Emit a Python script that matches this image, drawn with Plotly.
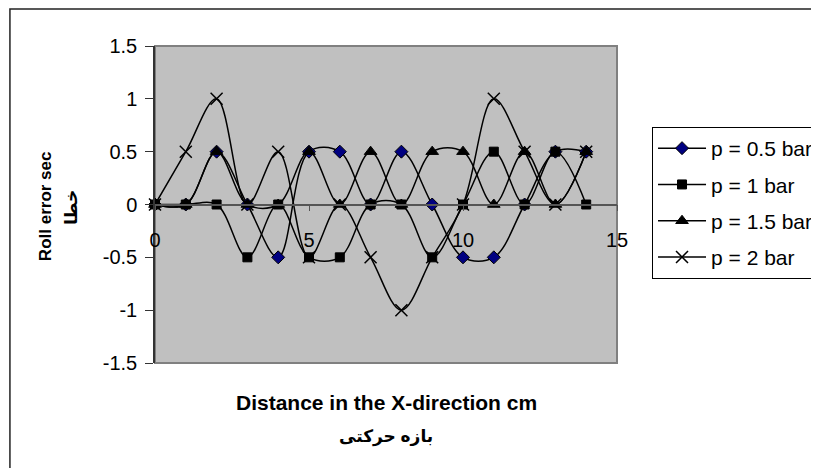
import plotly.graph_objects as go

# distance along X (cm) and roll error per pressure
distance = list(range(15))
p_05 = [0, 0, 0.5, 0, -0.5, 0.5, 0.5, 0, 0.5, 0, -0.5, -0.5, 0, 0.5, 0.5]
p_1 = [0, 0, 0, -0.5, 0, -0.5, -0.5, 0, 0, -0.5, 0, 0.5, 0, 0.5, 0]
p_15 = [0, 0, 0.5, 0, 0, 0.5, 0, 0.5, 0, 0.5, 0.5, 0, 0.5, 0, 0.5]
p_2 = [0, 0.5, 1, 0, 0.5, -0.5, 0, -0.5, -1, -0.5, 0, 1, 0.5, 0, 0.5]

series_names = ["p = 0.5 bar", "p = 1 bar", "p = 1.5 bar", "p = 2 bar"]
y_tickvals = [-1.5, -1, -0.5, 0, 0.5, 1, 1.5]
y_ticktext = ["-1.5", "-1", "-0.5", "0", "0.5", "1", "1.5"]
x_tickvals = [0, 5, 10, 15]
x_ticktext = ["0", "5", "10", "15"]

FONT = "Liberation Sans, Arial, DejaVu Sans, sans-serif"

markers = [
    dict(symbol="diamond", size=10, color="#000080", line=dict(color="black", width=1)),
    dict(symbol="square", size=9, color="black", line=dict(color="black", width=1)),
    dict(symbol="triangle-up", size=11, color="black", line=dict(color="black", width=1)),
    dict(symbol="x-thin-open", size=12, color="black", line=dict(color="black", width=1.5)),
]

fig = go.Figure()
for name, values, marker in zip(series_names, [p_05, p_1, p_15, p_2], markers):
    fig.add_trace(
        go.Scatter(
            x=distance,
            y=values,
            name=name,
            legendgroup=name,
            mode="lines+markers",
            line=dict(color="black", width=1.5, shape="spline", smoothing=1),
            marker=marker,
            cliponaxis=False,
        )
    )

# plot area border and outer chart frame
fig.add_shape(type="rect", xref="paper", yref="paper", x0=0, y0=0, x1=1, y1=1,
              line=dict(color="#808080", width=2), layer="below")
fig.add_shape(type="rect", xref="paper", yref="paper", x0=-0.314, y0=-1, x1=1.5, y1=1.117,
              line=dict(color="#222222", width=1.5), layer="below")

fig.add_annotation(text="Distance in the X-direction cm", x=0.5, y=-0.125, xref="paper", yref="paper",
                   showarrow=False, xanchor="center", yanchor="middle",
                   font=dict(size=21, family=FONT, color="black", weight="bold"))
fig.add_annotation(text="بازه حرکتی", x=0.5, y=-0.235, xref="paper", yref="paper",
                   showarrow=False, xanchor="center", yanchor="middle",
                   font=dict(size=17, family=FONT, color="black", weight="bold"))
fig.add_annotation(text="Roll error sec", x=-0.238, y=0.495, xref="paper", yref="paper", textangle=-90,
                   showarrow=False, xanchor="center", yanchor="middle",
                   font=dict(size=17, family=FONT, color="black", weight="bold"))
fig.add_annotation(text="خطا", x=-0.182, y=0.492, xref="paper", yref="paper", textangle=-90,
                   showarrow=False, xanchor="center", yanchor="middle",
                   font=dict(size=17, family=FONT, color="black", weight="bold"))

fig.update_layout(
    width=811,
    height=460,
    margin=dict(l=147, r=202, t=38, b=105, autoexpand=False),
    paper_bgcolor="white",
    plot_bgcolor="#C0C0C0",
    font=dict(family=FONT, color="black", size=20),
    showlegend=True,
    legend=dict(
        x=1.0758, y=0.7445, xanchor="left", yanchor="top",
        bgcolor="white", bordercolor="black", borderwidth=1,
        font=dict(size=21, family=FONT, color="black"),
        itemwidth=48, tracegroupgap=6,
    ),
)
fig.update_xaxes(
    range=[0, 15], anchor="free", position=0.5,
    showline=True, linecolor="#555555", linewidth=1.5,
    ticks="outside", ticklen=6, tickcolor="#555555",
    tickvals=x_tickvals, ticktext=x_ticktext, ticklabelstandoff=12,
    showgrid=False, zeroline=False, tickfont=dict(size=20),
)
fig.update_yaxes(
    range=[-1.5, 1.5],
    showline=True, linecolor="#333333", linewidth=1.5,
    ticks="outside", ticklen=8, tickcolor="#333333",
    tickvals=y_tickvals, ticktext=y_ticktext, ticklabelstandoff=4,
    showgrid=False, zeroline=False, tickfont=dict(size=20),
)

fig.write_html("out.html")
